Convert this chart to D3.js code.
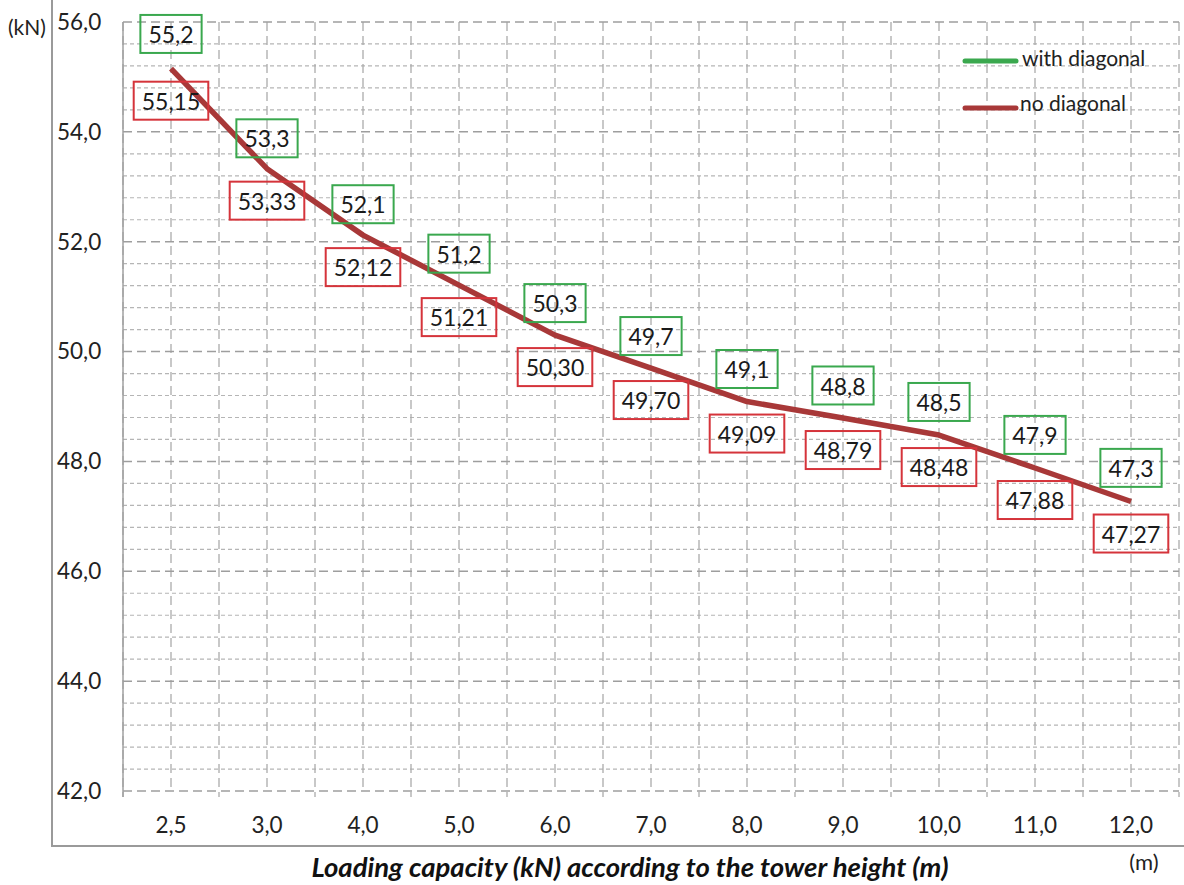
<!DOCTYPE html>
<html><head><meta charset="utf-8">
<script src="https://cdn.jsdelivr.net/npm/d3@7"></script>
<style>
html,body{margin:0;padding:0;background:#fff;}
svg{display:block;font-family:Lato,"Open Sans",sans-serif;}
</style></head>
<body>
<svg id="chart" width="1184" height="885"></svg>
<script>
const categories = ["2,5","3,0","4,0","5,0","6,0","7,0","8,0","9,0","10,0","11,0","12,0"];
const withDiagonal = [55.2, 53.3, 52.1, 51.2, 50.3, 49.7, 49.1, 48.8, 48.5, 47.9, 47.3];
const withDiagonalLabels = ["55,2","53,3","52,1","51,2","50,3","49,7","49,1","48,8","48,5","47,9","47,3"];
const noDiagonal = [55.15, 53.33, 52.12, 51.21, 50.30, 49.70, 49.09, 48.79, 48.48, 47.88, 47.27];
const noDiagonalLabels = ["55,15","53,33","52,12","51,21","50,30","49,70","49,09","48,79","48,48","47,88","47,27"];
const yTicks = [42, 44, 46, 48, 50, 52, 54, 56];
const seriesNames = ["with diagonal", "no diagonal"];

(function () {
const svg = d3.select("#chart");
const pLeft = 123, pRight = 1179, pTop = 22, pBottom = 791;
const GREEN = "#3aa84e", RED = "#d5343b", LINE = "#a83838";

const x = d3.scaleBand().domain(categories).range([pLeft, pRight]);
const y = d3.scaleLinear().domain([42, 56]).range([pBottom, pTop]);
const cx = c => x(c) + x.bandwidth() / 2;

// frame
svg.append("line").attr("x1", 52).attr("x2", 52).attr("y1", 0).attr("y2", 847)
  .attr("stroke", "#9a9a9a").attr("stroke-width", 2);
svg.append("line").attr("x1", 51).attr("x2", 1184).attr("y1", 846).attr("y2", 846)
  .attr("stroke", "#9a9a9a").attr("stroke-width", 2);

// minor horizontal grid
const minor = d3.range(42, 56.001, 0.4).filter(v => Math.abs(v/2 - Math.round(v/2)) > 0.01);
svg.append("g").selectAll("line").data(minor).join("line")
  .attr("x1", pLeft).attr("x2", pRight).attr("y1", d => y(d)).attr("y2", d => y(d))
  .attr("stroke", "#b5b5b5").attr("stroke-width", 1.2).attr("stroke-dasharray", "4,3");

// vertical grid: band edges and centers
const edges = categories.map(c => x(c)).concat([pRight]);
svg.append("g").selectAll("line").data(edges).join("line")
  .attr("x1", d => d).attr("x2", d => d).attr("y1", pTop).attr("y2", pBottom + 6)
  .attr("stroke", "#ababab").attr("stroke-width", 1.3).attr("stroke-dasharray", "9,5");
svg.append("g").selectAll("line").data(categories).join("line")
  .attr("x1", d => cx(d)).attr("x2", d => cx(d)).attr("y1", pTop).attr("y2", pBottom)
  .attr("stroke", "#ababab").attr("stroke-width", 1.3).attr("stroke-dasharray", "9,5");
svg.append("line").attr("x1", pLeft).attr("x2", pLeft).attr("y1", pTop).attr("y2", pBottom + 6)
  .attr("stroke", "#a0a0a0").attr("stroke-width", 1.5);

// major horizontal grid
svg.append("g").selectAll("line").data(yTicks).join("line")
  .attr("x1", pLeft).attr("x2", pRight).attr("y1", d => y(d)).attr("y2", d => y(d))
  .attr("stroke", "#9e9e9e").attr("stroke-width", 1.5).attr("stroke-dasharray", "9,5");

// y axis labels
const fmt = v => d3.format(".1f")(v).replace(".", ",");
svg.append("g").selectAll("text").data(yTicks).join("text")
  .attr("x", 57).attr("y", d => y(d)).attr("dy", "0.35em")
  .attr("font-size", 22.5).attr("fill", "#222").text(d => fmt(d));
svg.append("text").attr("x", 8).attr("y", 28).attr("dy", "0.35em")
  .attr("font-size", 21).attr("fill", "#222").text("(kN)");

// x axis labels
svg.append("g").selectAll("text").data(categories).join("text")
  .attr("x", d => cx(d)).attr("y", 825).attr("dy", "0.35em").attr("text-anchor", "middle")
  .attr("font-size", 22.5).attr("fill", "#222").text(d => d);
svg.append("text").attr("x", 630).attr("y", 867).attr("dy", "0.35em").attr("text-anchor", "middle")
  .attr("font-size", 27.5).attr("font-weight", "bold").attr("font-style", "italic")
  .attr("fill", "#111").text("Loading capacity (kN) according to the tower height (m)");
svg.append("text").attr("x", 1144).attr("y", 862).attr("dy", "0.35em").attr("text-anchor", "middle")
  .attr("font-size", 22).attr("fill", "#222").text("(m)");

// line (only the "no diagonal" curve is drawn; "with diagonal" coincides with it)
const lineGen = d3.line().x((d, i) => cx(categories[i])).y(d => y(d));
svg.append("path").datum(noDiagonal).attr("d", lineGen)
  .attr("fill", "none").attr("stroke", LINE).attr("stroke-width", 5.5)
  .attr("stroke-linejoin", "round").attr("stroke-linecap", "butt");

// labels with boxes
function boxes(values, labels, color, off) {
  const g = svg.append("g");
  values.forEach((v, i) => {
    const px = cx(categories[i]), py = y(v) + off;
    const t = g.append("text").attr("x", px).attr("y", py + 1).attr("dy", "0.35em")
      .attr("text-anchor", "middle").attr("font-size", 23).attr("fill", "#1a1a1a").text(labels[i]);
    const w = t.node().getComputedTextLength() + 16;
    g.insert("rect", "text").attr("x", px - w / 2).attr("y", py - 19).attr("width", w).attr("height", 38)
      .attr("fill", "none").attr("stroke", color).attr("stroke-width", 2);
  });
}
boxes(withDiagonal, withDiagonalLabels, GREEN, -32);
boxes(noDiagonal, noDiagonalLabels, RED, 32);

// legend
const legend = svg.append("g");
[[GREEN, 61, seriesNames[0], 1022, 59], [LINE, 108, seriesNames[1], 1020, 104]].forEach(([c, ly, name, tx, ty]) => {
  legend.append("line").attr("x1", 965).attr("x2", 1016).attr("y1", ly).attr("y2", ly)
    .attr("stroke", c).attr("stroke-width", 5).attr("stroke-linecap", "round");
  legend.append("text").attr("x", tx).attr("y", ty).attr("dy", "0.35em")
    .attr("font-size", 21).attr("fill", "#222").text(name);
});
})();
</script>
</body></html>
